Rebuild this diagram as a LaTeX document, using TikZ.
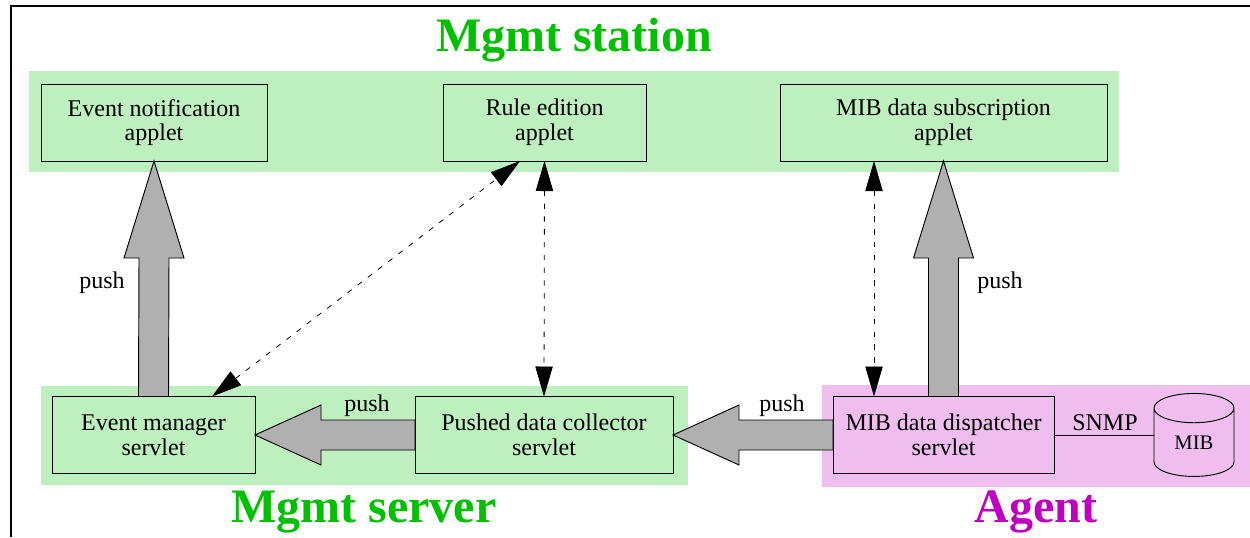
\documentclass[tikz,border=0pt]{standalone}
\usepackage{fontspec}
\setmainfont{Liberation Serif}
\usetikzlibrary{arrows.meta,calc,shapes.geometric}
\definecolor{bggreen}{HTML}{BEEFBE}
\definecolor{bgpink}{HTML}{EFBEEF}
\definecolor{fatgrey}{HTML}{B0B0B0}
\definecolor{titlegreen}{HTML}{00C000}
\definecolor{titlepink}{HTML}{C000C0}
\tikzset{
  x=0.75pt,y=-0.75pt,
  bx/.style={draw=black,line width=0.7pt,align=center,inner sep=0pt,outer sep=0pt,
    minimum height=77*0.75pt,font=\fontsize{18}{18.6}\selectfont},
  fat/.style={draw=black,fill=fatgrey,line width=0.7pt,line join=miter},
  dashlink/.style={draw=black,line width=0.6pt,dash pattern=on 4pt off 5.6pt,
    {Triangle[length=22.5pt,width=13pt]}-{Triangle[length=22.5pt,width=13pt]}},
  title/.style={inner sep=0pt,font=\fontsize{36}{40}\selectfont\bfseries},
  lbl/.style={inner sep=0pt,font=\fontsize{18}{18.9}\selectfont},
}
\begin{document}
\begin{tikzpicture}
\useasboundingbox (0,0) rectangle (1250,537);
\fill[white] (0,0) rectangle (1250,537);
\draw[line width=0.9pt] (11,537) -- (11,6) -- (1250,6);
% regions
\fill[bggreen] (29,71) rectangle (1119,172);
\fill[bggreen] (41,386) rectangle (688,485);
\fill[bgpink] (822,385) rectangle (1250,487);
% titles
\node[title,text=titlegreen] (tstation) at (574,40) {Mgmt station};
\node[title,text=titlegreen] (tserver) at (364,512) {Mgmt server};
\node[title,text=titlepink] (tagent) at (1036,512) {Agent};
% boxes
\node[bx,fill=bggreen,minimum width=226*0.75pt] (en) at (154,122.5) {Event notification\\applet};
\node[bx,fill=bggreen,minimum width=203*0.75pt] (re) at (544.5,122.5) {Rule edition\\applet};
\node[bx,fill=bggreen,minimum width=327*0.75pt] (ms) at (943.5,122.5) {MIB data subscription\\applet};
\node[bx,fill=bggreen,minimum width=203*0.75pt] (em) at (153.5,435) {Event manager\\servlet};
\node[bx,fill=bggreen,minimum width=258*0.75pt] (pd) at (544,435) {Pushed data collector\\servlet};
\node[bx,fill=bgpink,minimum width=221*0.75pt] (md) at (943.5,435) {MIB data dispatcher\\servlet};
\node[cylinder,shape border rotate=90,aspect=0.75,draw=black,line width=0.7pt,fill=bgpink,
  minimum width=80*0.75pt,minimum height=83*0.75pt,inner sep=0pt,outer sep=0pt,
  font=\fontsize{15.5}{16}\selectfont] (mib) at (1194,442.5) {MIB};
% thick arrows
\draw[fat] (en.south) -- ++(-30,97) -- ++(15,0) -- ($(em.north)+(-15,0)$)
  -- ($(em.north)+(15,0)$) -- ($(en.south)+(15,97)$) -- ++(15,0) -- cycle;
\draw[fat] (ms.south) -- ++(-30,97) -- ++(15,0) -- ($(md.north)+(-15,0)$)
  -- ($(md.north)+(15,0)$) -- ($(ms.south)+(15,97)$) -- ++(15,0) -- cycle;
\draw[fat] (em.east) -- ++(66,-30) -- ++(0,15) -- ($(pd.west)+(0,-15)$)
  -- ($(pd.west)+(0,15)$) -- ($(em.east)+(66,15)$) -- ++(0,15) -- cycle;
\draw[fat] (pd.east) -- ++(66,-30) -- ++(0,15) -- ($(md.west)+(0,-15)$)
  -- ($(md.west)+(0,15)$) -- ($(pd.east)+(66,15)$) -- ++(0,15) -- cycle;
% dashed links
\draw[dashlink] (em.north -| 212,0) -- (re.south -| 520,0);
\draw[dashlink] (re.south) -- (pd.north);
\draw[dashlink] (ms.south -| 874,0) -- (md.north -| 874,0);
% SNMP line
\draw[line width=0.7pt] (md.east) -- (md.east -| mib.west);
% labels
\node[lbl] (p1) at (102,283) {push};
\node[lbl] (p2) at (1000,283) {push};
\node[lbl] (p3) at (367,406) {push};
\node[lbl] (p4) at (782,406) {push};
\node[lbl] (snmp) at (1105,423) {SNMP};
\end{tikzpicture}
\end{document}
